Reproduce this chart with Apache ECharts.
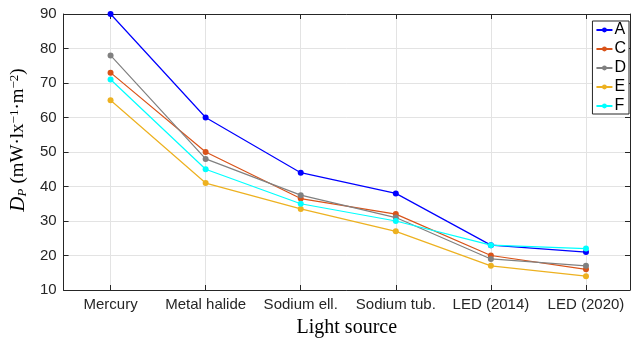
<!DOCTYPE html>
<html>
<head>
<meta charset="utf-8">
<script src="https://cdn.jsdelivr.net/npm/echarts@6/dist/echarts.min.js"></script>
<style>html,body{margin:0;padding:0;background:#fff;}#c{width:633px;height:343px;}</style>
</head>
<body>
<div id="c"></div>
<script>
const categories = ['Mercury', 'Metal halide', 'Sodium ell.', 'Sodium tub.', 'LED (2014)', 'LED (2020)'];
const yTicks = [10, 20, 30, 40, 50, 60, 70, 80, 90];
const seriesNames = ['A', 'C', 'D', 'E', 'F'];
const valuesA = [90, 60, 44, 38, 23, 21];
const valuesC = [73, 50, 36.5, 32, 20, 16];
const valuesD = [78, 48, 37.5, 31, 19, 17];
const valuesE = [65, 41, 33.5, 27, 17, 14];
const valuesF = [71, 45, 35, 30, 23, 22];
const colors = ['#0000ff', '#d95319', '#808080', '#edb120', '#00ffff'];

const allValues = [valuesA, valuesC, valuesD, valuesE, valuesF];
const chart = echarts.init(document.getElementById('c'), null, {renderer: 'canvas'});
const axisCol = '#262626';
const gridCol = '#e3e3e3';
const sans = 'Liberation Sans';

const xBase = {
  type: 'value', min: -0.494, max: 5.463,
  axisLine: {show: true, onZero: false, lineStyle: {color: axisCol, width: 1}},
  axisTick: {show: true, inside: true, length: 5, lineStyle: {color: axisCol}},
};
const yBase = {
  type: 'value', min: yTicks[0], max: yTicks[yTicks.length - 1], interval: 10,
  axisLine: {show: true, onZero: false, lineStyle: {color: axisCol, width: 1}},
  axisTick: {show: true, inside: true, length: 5, lineStyle: {color: axisCol}},
};

chart.setOption({
  animation: false,
  backgroundColor: '#ffffff',
  grid: {left: 57, right: 1, top: 14, bottom: 49, containLabel: false},
  xAxis: [
    Object.assign({}, xBase, {
      position: 'bottom',
      name: 'Light source', nameLocation: 'middle', nameGap: 28,
      nameTextStyle: {fontFamily: 'Liberation Serif', fontSize: 20, color: '#000'},
      axisLabel: {
        show: true, margin: 7, fontFamily: sans, fontSize: 15, color: axisCol,
        showMinLabel: true, showMaxLabel: true,
        formatter: function (v) { return Number.isInteger(v) ? categories[v] : ''; }
      },
      splitLine: {show: true, lineStyle: {color: gridCol, width: 1}}
    }),
    Object.assign({}, xBase, {
      position: 'top', axisLabel: {show: false}, splitLine: {show: false}
    })
  ],
  yAxis: [
    Object.assign({}, yBase, {
      position: 'left',
      name: '{it|D}{sub|P} {n|(mW·lx}{sup|−1}{n|·m}{sup|−2}{n|)}',
      nameLocation: 'middle', nameGap: 32, nameRotate: 90,
      nameTextStyle: {
        fontFamily: 'Liberation Serif', fontSize: 20, color: '#000', padding: [0, 0, 0, 24],
        rich: {
          it: {fontFamily: 'Liberation Serif', fontStyle: 'italic', fontSize: 21, color: '#000'},
          sub: {fontFamily: 'Liberation Serif', fontStyle: 'italic', fontSize: 13, color: '#000', verticalAlign: 'bottom', padding: [6, 0, 0, 0]},
          n: {fontFamily: 'Liberation Serif', fontSize: 19, color: '#000'},
          sup: {fontFamily: 'Liberation Serif', fontSize: 13, color: '#000', verticalAlign: 'top', padding: [0, 0, 8, 0]}
        }
      },
      axisLabel: {show: true, margin: 7, fontFamily: sans, fontSize: 15, color: axisCol},
      splitLine: {show: true, lineStyle: {color: gridCol, width: 1}}
    }),
    Object.assign({}, yBase, {
      position: 'right', axisLabel: {show: false}, splitLine: {show: false}
    })
  ],
  legend: {
    orient: 'vertical', right: 4, top: 21,
    data: seriesNames,
    backgroundColor: '#ffffff', borderColor: axisCol, borderWidth: 1, borderRadius: 0,
    padding: [1, 3, 0, 3], itemGap: 3, itemWidth: 16, itemHeight: 6,
    textStyle: {fontFamily: sans, fontSize: 16, color: '#000', padding: [0, 0, 0, -3]}
  },
  series: seriesNames.map(function (name, k) {
    return {
      name: name, type: 'line', xAxisIndex: 0, yAxisIndex: 0,
      data: allValues[k].map(function (v, i) { return [i, v]; }),
      symbol: 'circle', symbolSize: 6, showSymbol: true,
      lineStyle: {color: colors[k], width: 1.2},
      itemStyle: {color: colors[k]},
      z: 3 + k
    };
  })
});
</script>
</body>
</html>
